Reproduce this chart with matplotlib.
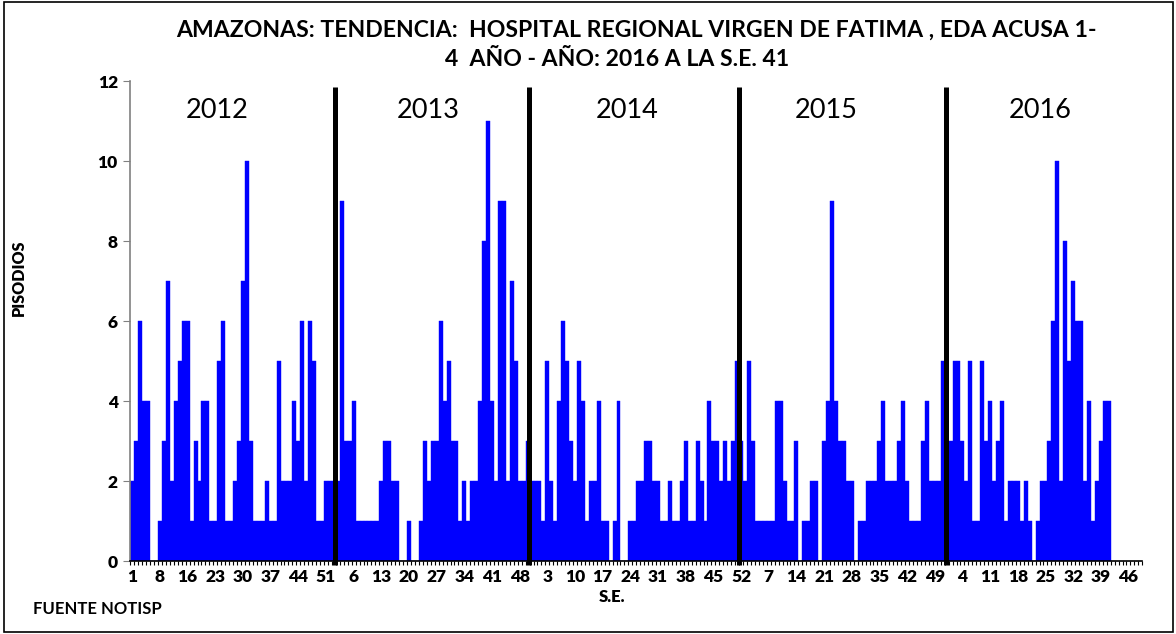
import matplotlib
matplotlib.use("Agg")
import matplotlib.pyplot as plt
from matplotlib.patches import Rectangle

plt.rcParams["font.family"] = ["Lato", "DejaVu Sans"]
plt.rcParams["font.weight"] = "bold"

# weekly cases, one list per year (2012 has no week 9 in the source table)
weeks_2012 = [w for w in range(1, 53) if w != 9]
weeks_other = list(range(1, 53))
weeks_2016_axis = list(range(1, 50))   # axis runs past the last reported week

cases_2012 = [2, 3, 6, 4, 4, 0, 0, 1, 3, 7, 2, 4, 5, 6, 6, 1, 3, 2, 4, 4,
              1, 1, 5, 6, 1, 1, 2, 3, 7, 10, 3, 1, 1, 1, 2, 1, 1, 5, 2, 2,
              2, 4, 3, 6, 2, 6, 5, 1, 1, 2, 2]
cases_2013 = [2, 2, 9, 3, 3, 4, 1, 1, 1, 1, 1, 1, 2, 3, 3, 2, 2, 0, 0, 1,
              0, 0, 1, 3, 2, 3, 3, 6, 4, 5, 3, 3, 1, 2, 1, 2, 2, 4, 8, 11,
              4, 2, 9, 9, 2, 7, 5, 2, 2, 3, 2, 2]
cases_2014 = [2, 1, 5, 2, 1, 4, 6, 5, 3, 2, 5, 4, 1, 2, 2, 4, 1, 1, 0, 1,
              4, 0, 0, 1, 1, 2, 2, 3, 3, 2, 2, 1, 1, 2, 1, 1, 2, 3, 1, 1,
              3, 2, 1, 4, 3, 3, 2, 3, 2, 3, 5, 3]
cases_2015 = [2, 5, 3, 1, 1, 1, 1, 1, 4, 4, 2, 1, 1, 3, 0, 1, 1, 2, 2, 0,
              3, 4, 9, 4, 3, 3, 2, 2, 0, 1, 1, 2, 2, 2, 3, 4, 2, 2, 2, 3,
              4, 2, 1, 1, 1, 3, 4, 2, 2, 2, 5, 3]
cases_2016 = [3, 5, 5, 3, 2, 5, 1, 1, 5, 3, 4, 2, 3, 4, 1, 2, 2, 2, 1, 2,
              1, 0, 1, 2, 2, 3, 6, 10, 2, 8, 5, 7, 6, 6, 2, 4, 1, 2, 3, 4,
              4]

years = ["2012", "2013", "2014", "2015", "2016"]
year_label_x = [21.4, 74.8, 125.2, 175.5, 229.6]
divider_x = [51.2, 100.4, 153.4, 205.8]   # hand drawn separators

week_labels = weeks_2012 + weeks_other * 3 + weeks_2016_axis
cases = cases_2012 + cases_2013 + cases_2014 + cases_2015 + cases_2016

fig = plt.figure(figsize=(11.76, 6.34), dpi=100)
ax = fig.add_axes([130.3 / 1176, 73 / 634, 1012 / 1176, 480 / 634])

ax.bar(range(len(cases)), cases, width=1.0, color="#0000ff",
       edgecolor="#0000ff", linewidth=0.3)

ax.set_xlim(-0.5, len(week_labels) - 0.5)
ax.set_ylim(0, 12)

ax.set_yticks(range(0, 13, 2))
ax.set_xticks(range(0, len(week_labels), 7))
ax.set_xticklabels([str(week_labels[i]) for i in range(0, len(week_labels), 7)])
ax.set_xticks([i + 0.5 for i in range(-1, len(week_labels))], minor=True)
ax.tick_params(axis="x", which="major", length=0, pad=6, labelsize=12.5)
ax.tick_params(axis="x", which="minor", length=3, width=0.8, direction="out")
ax.tick_params(axis="y", length=5, width=0.8, color="#808080", pad=4,
               labelsize=12.5)
for lab in ax.get_xticklabels() + ax.get_yticklabels():
    lab.set_fontweight("heavy")

for side in ["top", "right"]:
    ax.spines[side].set_visible(False)
ax.spines["left"].set_color("#808080")
ax.spines["left"].set_linewidth(1.2)
ax.spines["bottom"].set_color("black")
ax.spines["bottom"].set_linewidth(1.2)

for x in divider_x:
    ax.plot([x, x], [-0.1, 11.85], color="black", lw=3.6, clip_on=False,
            solid_capstyle="butt")

for label, x in zip(years, year_label_x):
    ax.text(x, 11.27, label, ha="center", va="center", weight="normal",
            fontsize=19.5)

ax.set_ylabel("PISODIOS", fontsize=11.5, fontweight="heavy")
ax.yaxis.set_label_coords(-0.102, 0.59)
fig.text(612 / 1176, 1 - 597 / 634, "S.E.", ha="center", va="center",
         fontsize=12, fontweight="heavy")

fig.text(636 / 1176, 1 - 30 / 634,
         "AMAZONAS: TENDENCIA:  HOSPITAL REGIONAL VIRGEN DE FATIMA , EDA ACUSA 1-",
         ha="center", va="center", fontsize=16.6)
fig.text(617 / 1176, 1 - 60 / 634, "4  AÑO - AÑO: 2016 A LA S.E. 41",
         ha="center", va="center", fontsize=16.6)
fig.text(33 / 1176, 1 - 609 / 634, "FUENTE NOTISP", ha="left", va="center",
         fontsize=12)

fig.patches.append(Rectangle((4 / 1176, 2 / 634), 1169 / 1176, 630 / 634,
                             transform=fig.transFigure, fill=False,
                             edgecolor="black", linewidth=1.2))

fig.savefig("out.png", dpi=100)
